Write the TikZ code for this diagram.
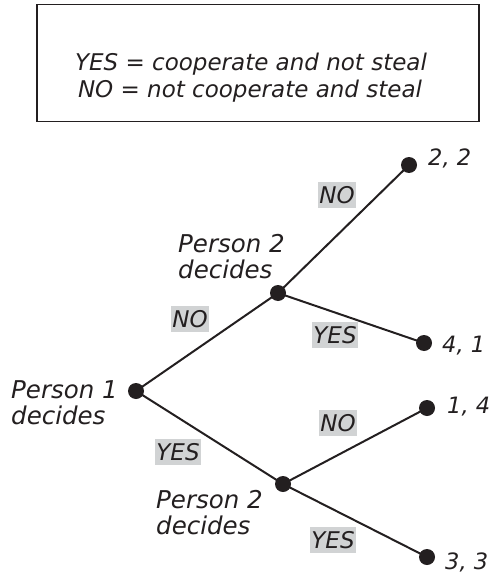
\documentclass[tikz,border=0pt]{standalone}
\usepackage{fontspec}
\setmainfont{DejaVu Sans}
\definecolor{ink}{HTML}{231F20}
\definecolor{lblgray}{HTML}{D1D3D4}
\begin{document}
\begin{tikzpicture}[x=1pt,y=-1pt,
  every node/.style={font=\fontsize{22}{25}\selectfont\itshape, text=ink},
  dot/.style={circle, fill=ink, inner sep=0pt, minimum size=16pt},
  edge/.style={draw=ink, line width=2pt},
  choice/.style={fill=lblgray, inner xsep=1.5pt, inner ysep=5pt, text height=16.5pt, text depth=0pt, font=\fontsize{23}{26}\selectfont\itshape},
  payoff/.style={anchor=base west, inner sep=0pt, font=\fontsize{22.5}{26}\selectfont\itshape},
  who/.style={anchor=west, align=left, inner sep=0pt, font=\fontsize{24.5}{26}\selectfont\itshape},
  legendtext/.style={font=\fontsize{23}{26}\selectfont\itshape}]
\useasboundingbox (0,0) rectangle (493,575);
% legend box
\node[draw=ink, line width=1.5pt, minimum width=442pt, minimum height=117pt, inner sep=0pt] (legend) at (258,63) {};
\node[legendtext] (l1) at (251,64.5) {YES = cooperate and not steal};
\node[legendtext] (l2) at (250,91) {NO = not cooperate and steal};
% decision nodes and leaves
\node[dot] (p1) at (136,391) {};
\node[dot] (p2a) at (278,293) {};
\node[dot] (p2b) at (283,484) {};
\node[dot] (t22) at (409,165) {};
\node[dot] (t41) at (424,343) {};
\node[dot] (t14) at (427,408) {};
\node[dot] (t33) at (427,557) {};
% branches
\draw[edge] (p1.center) -- (p2a.center);
\draw[edge] (p2a.center) -- (t22.center);
\draw[edge] (p2a.center) -- (t41.center);
\draw[edge] (p1.center) -- (p2b.center);
\draw[edge] (p2b.center) -- (t14.center);
\draw[edge] (p2b.center) -- (t33.center);
% choice labels
\node[choice] (c1) at (337,195) {NO};
\node[choice] (c2) at (190,319) {NO};
\node[choice] (c3) at (335,335) {YES};
\node[choice] (c4) at (178,452) {YES};
\node[choice] (c5) at (338,423) {NO};
\node[choice] (c6) at (333,540) {YES};
% decider labels
\node[who] (w1) at (11,403) {Person 1\\decides};
\node[who] (w2) at (178,257) {Person 2\\decides};
\node[who] (w3) at (156,513) {Person 2\\decides};
% payoffs
\node[payoff] (v22) at (428,165) {2, 2};
\node[payoff] (v41) at (442,352) {4, 1};
\node[payoff] (v14) at (447,413) {1, 4};
\node[payoff] (v33) at (445,569) {3, 3};
\end{tikzpicture}
\end{document}
